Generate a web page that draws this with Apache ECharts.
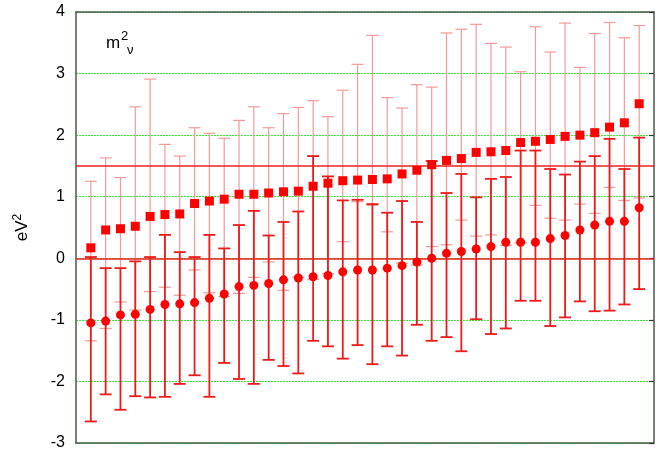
<!DOCTYPE html>
<html>
<head>
<meta charset="utf-8">
<script src="https://cdn.jsdelivr.net/npm/echarts@6/dist/echarts.min.js"></script>
<style>
html,body{margin:0;padding:0;background:#fff;}
#chart{width:659px;height:453px;}
</style>
</head>
<body>
<div id="chart"></div>
<script>
// Square series (value, lower end, upper end)
var sqVal = [0.17,0.46,0.48,0.52,0.68,0.71,0.72,0.89,0.93,0.96,1.04,1.04,1.06,1.08,1.09,1.17,1.22,1.26,1.27,1.28,1.29,1.37,1.43,1.52,1.59,1.62,1.72,1.73,1.75,1.88,1.90,1.93,1.98,2.00,2.04,2.13,2.20,2.51];
var sqHi  = [1.25,1.63,1.31,2.46,2.91,1.85,1.66,2.12,2.03,1.95,2.24,2.46,2.12,2.35,2.45,2.56,2.30,2.73,3.15,3.62,2.61,2.44,2.82,2.78,3.66,3.72,3.80,3.49,3.43,3.03,3.76,3.35,3.82,3.10,3.65,3.83,3.58,3.78];
var sqLo  = [-1.34,-1.14,-0.71,-0.84,-0.54,-0.47,-0.60,-0.19,-0.56,-0.62,-0.57,-0.31,-0.06,-0.52,-0.31,-0.34,-0.25,0.27,0.92,0.86,0.43,-0.08,-0.11,0.19,0.22,0.62,0.36,0.38,0.21,0.25,0.86,0.65,0.62,0.88,0.73,1.15,0.94,0.98];
// Circle series (value, lower end, upper end)
var ciVal = [-1.05,-1.02,-0.92,-0.91,-0.83,-0.75,-0.74,-0.72,-0.65,-0.58,-0.46,-0.44,-0.41,-0.35,-0.32,-0.30,-0.28,-0.22,-0.19,-0.19,-0.16,-0.12,-0.06,0.00,0.08,0.11,0.15,0.19,0.26,0.26,0.26,0.32,0.37,0.46,0.54,0.60,0.60,0.82];
var ciHi  = [0.02,-0.16,-0.16,-0.05,0.02,0.38,0.10,0.02,0.38,0.16,0.54,0.77,0.37,0.59,0.76,1.66,1.33,0.94,0.95,0.88,0.74,0.93,0.59,1.58,1.06,1.37,0.99,1.29,1.32,1.75,1.75,1.45,1.36,1.57,1.66,1.94,1.45,1.96];
var ciLo  = [-2.65,-2.21,-2.46,-2.24,-2.26,-2.25,-2.04,-1.90,-2.25,-1.70,-1.96,-2.04,-1.65,-1.75,-1.87,-1.34,-1.43,-1.63,-1.41,-1.72,-1.43,-1.58,-1.08,-1.34,-1.28,-1.51,-0.99,-1.23,-1.14,-0.69,-0.69,-1.10,-0.96,-0.70,-0.86,-0.85,-0.75,-0.50];
// Reference lines
var refLines = [0, 1.5];
var yTicks = [-3,-2,-1,0,1,2,3,4];

var chart = echarts.init(document.getElementById('chart'), null, {renderer:'canvas'});
var FONT = 'Liberation Sans';
var frameColor = '#4a5a4a';

function errBars(lo, hi, color, width, capW, z) {
  return {
    type: 'custom',
    z: z,
    silent: true,
    data: lo.map(function (l, i) { return [i, l, hi[i]]; }),
    encode: {x: 0, y: [1, 2]},
    renderItem: function (params, api) {
      var x = api.value(0);
      var p1 = api.coord([x, api.value(1)]);
      var p2 = api.coord([x, api.value(2)]);
      var h = capW / 2;
      var st = {stroke: color, lineWidth: width};
      return {
        type: 'group',
        children: [
          {type: 'line', shape: {x1: p1[0], y1: p1[1], x2: p2[0], y2: p2[1]}, style: st},
          {type: 'line', shape: {x1: p1[0] - h, y1: p1[1], x2: p1[0] + h, y2: p1[1]}, style: st},
          {type: 'line', shape: {x1: p2[0] - h, y1: p2[1], x2: p2[0] + h, y2: p2[1]}, style: st}
        ]
      };
    }
  };
}

var option = {
  animation: false,
  backgroundColor: '#fff',
  grid: {left: 76, right: 5, top: 12, bottom: 10, containLabel: false},
  xAxis: [
    {type: 'value', min: -1, max: 38, position: 'bottom',
     axisLine: {show: true, onZero: false, lineStyle: {color: frameColor, width: 1.5}},
     axisTick: {show: false}, axisLabel: {show: false}, splitLine: {show: false}},
    {type: 'value', min: -1, max: 38, position: 'top',
     axisLine: {show: true, onZero: false, lineStyle: {color: frameColor, width: 1.5}},
     axisTick: {show: false}, axisLabel: {show: false}, splitLine: {show: false}}
  ],
  yAxis: [
    {type: 'value', min: yTicks[0], max: yTicks[yTicks.length - 1], interval: 1, position: 'left',
     name: '{a|eV}{b|2}', nameLocation: 'middle', nameGap: 43, nameRotate: 90,
     nameTextStyle: {color: '#000', fontFamily: FONT,
       rich: {a: {fontSize: 17, fontFamily: FONT, color: '#000'},
              b: {fontSize: 12, fontFamily: FONT, color: '#000', padding: [0, 0, 9, 0]}}},
     axisLine: {show: true, onZero: false, lineStyle: {color: frameColor, width: 1.5}},
     axisTick: {show: false},
     axisLabel: {color: '#000', fontSize: 16, fontFamily: FONT, margin: 11},
     splitLine: {show: true, lineStyle: {color: '#2fe82f', width: 1, type: [2, 1]}}},
    {type: 'value', min: yTicks[0], max: yTicks[yTicks.length - 1], interval: 1, position: 'right',
     axisLine: {show: true, onZero: false, lineStyle: {color: frameColor, width: 1.5}},
     axisTick: {show: true, inside: true, length: 5, lineStyle: {color: '#333', width: 1.2}},
     axisLabel: {show: false}, splitLine: {show: false}}
  ],
  graphic: [
    {type: 'text', left: 106, top: 35, style: {text: 'm', fontSize: 17, fontFamily: FONT, fill: '#000'}},
    {type: 'text', left: 121, top: 30, style: {text: '2', fontSize: 13, fontFamily: FONT, fill: '#000'}},
    {type: 'text', left: 127, top: 44, style: {text: 'ν', fontSize: 13, fontFamily: FONT, fill: '#000'}}
  ],
  series: [
    errBars(sqLo, sqHi, '#f29a9a', 1.2, 12, 2),
    {
      type: 'line', data: [], z: 3, silent: true,
      markLine: {
        silent: true, symbol: 'none', label: {show: false},
        lineStyle: {color: '#ee2020', width: 1.6, type: 'solid'},
        data: refLines.map(function (v) { return {yAxis: v}; })
      }
    },
    errBars(ciLo, ciHi, '#ee1a1a', 1.8, 12, 4),
    {
      type: 'scatter', z: 5, silent: true, symbol: 'rect', symbolSize: 9,
      itemStyle: {color: '#ff0000', opacity: 1},
      data: sqVal.map(function (v, i) { return [i, v]; })
    },
    {
      type: 'scatter', z: 5, silent: true, symbol: 'circle', symbolSize: 9,
      itemStyle: {color: '#ff0000', opacity: 1},
      data: ciVal.map(function (v, i) { return [i, v]; })
    }
  ]
};
chart.setOption(option);
</script>
</body>
</html>
